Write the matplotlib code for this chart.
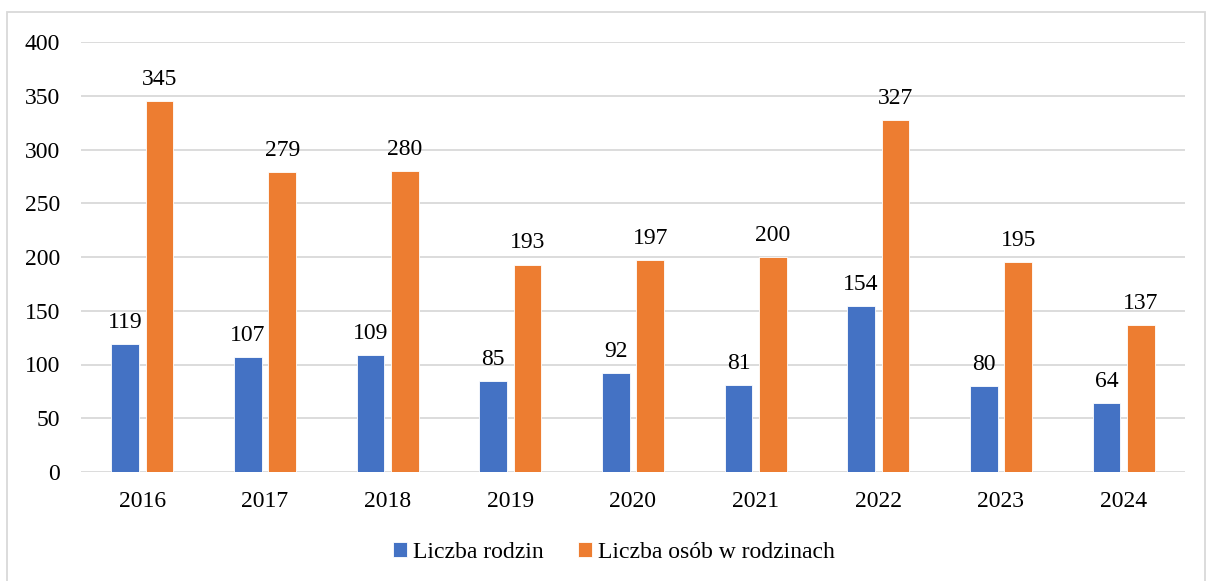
import numpy as np
import matplotlib.pyplot as plt
from matplotlib.patches import Rectangle

plt.rcParams['font.family'] = ['Liberation Serif', 'DejaVu Serif']

lata = ['2016', '2017', '2018', '2019', '2020', '2021', '2022', '2023', '2024']
rodziny = [119, 107, 109, 85, 92, 81, 154, 80, 64]
osoby = [345, 279, 280, 193, 197, 200, 327, 195, 137]

niebieski = '#4472C4'
pomaranczowy = '#ED7D31'

fig = plt.figure(figsize=(12.12, 5.81), dpi=100)
ax = fig.add_axes([81/1212, 1 - 472/581, (1185 - 81)/1212, (472 - 42)/581])

# ramka wokol wykresu
fig.patches.append(Rectangle((7/1212, -0.01), (1205 - 7)/1212, 1 - 12/581 + 0.01,
                             transform=fig.transFigure, fill=False,
                             edgecolor='#D9D9D9', linewidth=1.3))

x = np.arange(len(lata))
w = 0.228
b1 = ax.bar(x - 0.14, rodziny, w, color=niebieski, edgecolor='white', linewidth=0.6,
            label='Liczba rodzin', zorder=3)
b2 = ax.bar(x + 0.14, osoby, w, color=pomaranczowy, edgecolor='white', linewidth=0.6,
            label='Liczba osób w rodzinach', zorder=3)

ax.bar_label(b1, padding=8, fontsize=17)
ax.bar_label(b2, padding=8, fontsize=17)

ax.set_xlim(-0.5, len(lata) - 0.5)
ax.set_ylim(0, 400)
ax.set_yticks(range(0, 401, 50))
ax.set_xticks(x)
ax.set_xticklabels(lata)
ax.tick_params(axis='both', length=0, labelsize=17)
ax.tick_params(axis='x', pad=14)
ax.tick_params(axis='y', pad=15)
ax.yaxis.grid(True, color='#D9D9D9', linewidth=1.3, zorder=0)
ax.set_axisbelow(True)
for s in ax.spines.values():
    s.set_visible(False)

fig.legend(handles=[b1, b2], loc='center', bbox_to_anchor=(614/1212, 1 - 552/581),
           ncol=2, frameon=False, fontsize=17, handlelength=0.6, handleheight=0.6,
           handletextpad=0.25, columnspacing=1.45)

fig.savefig('out.png', dpi=100)
